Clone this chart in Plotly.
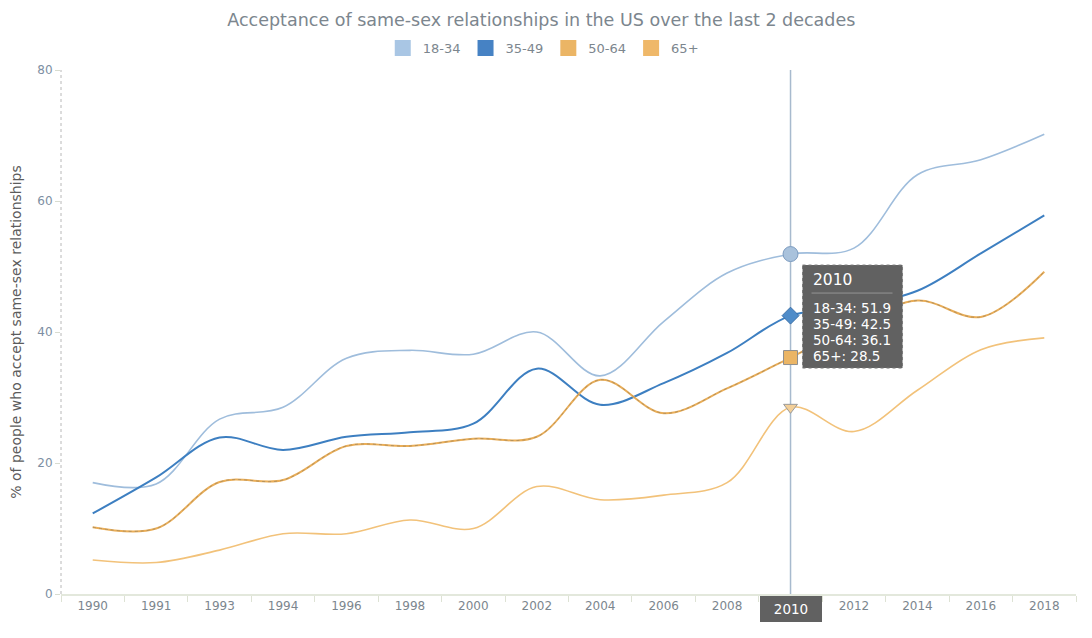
import plotly.graph_objects as go

# years on the category axis (1992 is missing in the source data)
years = ["1990", "1991", "1993", "1994", "1996", "1998", "2000", "2002",
         "2004", "2006", "2008", "2010", "2012", "2014", "2016", "2018"]

# % accepting same-sex relationships, per age group
age_18_34 = [17.0, 16.8, 26.7, 28.5, 36.0, 37.2, 36.6, 40.0,
             33.3, 41.6, 49.0, 51.9, 52.8, 64.0, 66.3, 70.2]
age_35_49 = [12.3, 17.8, 23.9, 22.0, 24.0, 24.7, 26.0, 34.4,
             28.9, 32.2, 36.8, 42.5, 43.9, 46.3, 52.0, 57.8]
age_50_64 = [10.2, 10.0, 17.1, 17.4, 22.6, 22.6, 23.7, 24.0,
             32.7, 27.6, 31.4, 36.1, 41.0, 44.8, 42.3, 49.2]
age_65_up = [5.2, 4.8, 6.7, 9.2, 9.2, 11.3, 10.0, 16.4,
             14.4, 15.1, 17.0, 28.5, 24.8, 31.1, 37.3, 39.1]

names = ["18-34", "35-49", "50-64", "65+"]
hover_year = "2010"

font = "DejaVu Sans, Verdana, sans-serif"
grey = "#7c868e"
tip_bg = "#616161"

series = [
    # name, values, line colour, line width, marker symbol, fill, border, size
    ("18-34", age_18_34, "#9fbddc", 1.6, "circle", "#a9c2dc", "#7d9cc0", 15),
    ("35-49", age_35_49, "#3d7fc1", 2, "diamond", "#4f8cc9", "#3a6fa8", 13),
    ("50-64", age_50_64, "#eaae58", 2, "square", "#ebb565", "#8f8f8f", 14),
    ("65+", age_65_up, "#f2c27a", 1.6, "triangle-down", "#f3cf98", "#9a9a9a", 12),
]
legend_fill = ["#a9c6e4", "#4682c4", "#ebb565", "#efb869"]

fig = go.Figure()

# category index of the hovered year (numeric-looking names are read as indices)
idx = years.index(hover_year)

for (name, vals, col, lw, sym, fill, edge, size), lf in zip(series, legend_fill):
    fig.add_trace(go.Scatter(
        x=years, y=vals, mode="lines", name=name, showlegend=False,
        line=dict(color=col, width=lw, shape="spline", smoothing=1.0),
        hoverinfo="skip",
    ))
    if name == "50-64":
        # thin dark dotted core on the 50-64 line
        fig.add_trace(go.Scatter(
            x=years, y=vals, mode="lines", showlegend=False,
            line=dict(color="#a88a5c", width=0.8, dash="dot",
                      shape="spline", smoothing=1.0),
            hoverinfo="skip",
        ))
    # legend swatch
    fig.add_trace(go.Scatter(
        x=[None], y=[None], mode="markers", name=name,
        marker=dict(symbol="square", size=16, color=lf,
                    line=dict(color=lf, width=0)),
    ))

# crosshair at the hovered year
fig.add_shape(type="line", xref="x", yref="paper", x0=idx, x1=idx,
              y0=0, y1=1, line=dict(color="#a7bace", width=1.5), layer="below")

# hovered markers
for name, vals, col, lw, sym, fill, edge, size in series:
    fig.add_trace(go.Scatter(
        x=[hover_year], y=[vals[idx]], mode="markers", showlegend=False,
        marker=dict(symbol=sym, size=size, color=fill,
                    line=dict(color=edge, width=1)),
        hoverinfo="skip",
    ))

# tooltip, placed in pixels from the hovered 18-34 point
anchor_y = age_18_34[idx]
fig.add_shape(type="rect", xref="x", yref="y",
              xsizemode="pixel", ysizemode="pixel",
              xanchor=idx, yanchor=anchor_y,
              x0=12, x1=112, y0=-11, y1=-114,
              fillcolor=tip_bg, line=dict(color="#7a7a7a", width=1, dash="dot"),
              layer="above")
fig.add_shape(type="line", xref="x", yref="y",
              xsizemode="pixel", ysizemode="pixel",
              xanchor=idx, yanchor=anchor_y,
              x0=21, x1=102, y0=-39, y1=-39,
              line=dict(color="#959595", width=1), layer="above")
fig.add_annotation(
    x=idx, y=anchor_y, xref="x", yref="y",
    xanchor="left", yanchor="middle", xshift=20, yshift=-26,
    text=hover_year, showarrow=False,
    font=dict(family=font, size=15.5, color="white"),
)
for k, (n, s) in enumerate(zip(names, series)):
    fig.add_annotation(
        x=idx, y=anchor_y, xref="x", yref="y",
        xanchor="left", yanchor="middle", xshift=20, yshift=-54 - 16 * k,
        text=f"{n}: {s[1][idx]}", showarrow=False,
        font=dict(family=font, size=13.5, color="white"),
    )

# year label on the axis (the plain tick label is left blank under it)
fig.add_annotation(
    x=idx, y=0, xref="x", yref="y", yanchor="top", yshift=-2,
    text=hover_year, showarrow=False, width=52, height=16,
    font=dict(family=font, size=13.5, color="white"),
    bgcolor=tip_bg, bordercolor=tip_bg, borderpad=4,
)
tick_text = ["" if y == hover_year else y for y in years]

# dotted y axis line
fig.add_shape(type="line", xref="paper", yref="paper", x0=0, x1=0, y0=0, y1=1,
              line=dict(color="#b8b8b8", width=1, dash="dot"))

# the page adds an 8px body margin, so the figure is 8px smaller than the window
fig.update_layout(
    width=1084, height=630,
    margin=dict(l=53, r=16, t=62, b=44),
    paper_bgcolor="white", plot_bgcolor="white",
    font=dict(family=font, color=grey, size=12),
    title=dict(text="Acceptance of same-sex relationships in the US over the last 2 decades",
               x=0.492, xanchor="center", xref="container",
               y=1 - 6 / 630, yanchor="top", yref="container",
               font=dict(family=font, size=17.5, color=grey)),
    legend=dict(orientation="h", x=0.317, xanchor="left", y=1.042, yanchor="middle",
                font=dict(family=font, size=13, color=grey),
                itemwidth=30, tracegroupgap=0, bgcolor="rgba(0,0,0,0)"),
    showlegend=True,
)

fig.update_xaxes(
    type="category", categoryorder="array", categoryarray=years,
    tickmode="array", tickvals=years, ticktext=tick_text,
    range=[-0.5, len(years) - 0.5],
    showgrid=False, zeroline=False,
    showline=True, linecolor="#e3e8dc", linewidth=2,
    ticks="outside", tickson="boundaries", ticklen=6, tickcolor="#dde2d4",
    tickfont=dict(family=font, size=12, color=grey),
)
fig.update_yaxes(
    range=[0, 80], dtick=20, showgrid=False, zeroline=False, showline=False,
    automargin=False,
    ticks="outside", ticklen=5, tickcolor="#d8dcd0",
    tickfont=dict(family=font, size=12, color="#7d8fa3"),
    title=dict(text="% of people who accept same-sex relationships",
               font=dict(family=font, size=14, color="#5c5c5c"), standoff=14),
)

fig.write_html("out.html")
